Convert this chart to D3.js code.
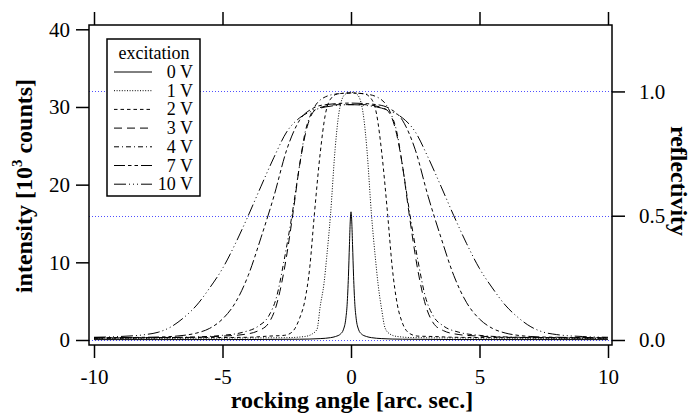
<!DOCTYPE html>
<html>
<head>
<meta charset="utf-8">
<script src="https://cdn.jsdelivr.net/npm/d3@7"></script>
<style>
  html, body { margin: 0; padding: 0; background: #fff; }
  svg { display: block; }
  text { font-family: "Liberation Serif", "Times New Roman", Times, serif; fill: #000; }
</style>
</head>
<body>
<svg id="chart" width="694" height="414"></svg>
<script>
// ---------------- data ----------------
const seriesLabels = ["0 V", "1 V", "2 V", "3 V", "4 V", "7 V", "10 V"];

const angle0V = [-10,-4,-2,-1.2,-0.8,-0.6,-0.4,-0.3,-0.2,-0.15,-0.1,-0.06,-0.03,0,0.03,0.06,0.1,0.15,0.2,0.3,0.4,0.6,0.8,1.2,2,4,10];
const intensity0V = [0.05,0.06,0.1,0.18,0.3,0.45,0.8,1.3,2.8,4.6,8.2,12.3,15.2,16.5,15.2,12.3,8.2,4.6,2.8,1.3,0.8,0.45,0.3,0.18,0.1,0.06,0.05];

const angle1V = [-10,-5,-2.5,-1.8,-1.5,-1.32,-1.2,-1.05,-0.95,-0.8,-0.62,-0.5,-0.35,-0.2,0,0.2,0.35,0.5,0.62,0.8,0.95,1.05,1.2,1.32,1.5,1.8,2.5,5,10];
const intensity1V = [0.2,0.25,0.3,0.45,0.8,1.4,4.3,7.3,10.5,16,24.5,28.5,31,31.7,31.9,31.7,31,28.5,24.5,16,10.5,7.3,3.8,1.6,0.8,0.45,0.3,0.25,0.2];

const angle2V = [-10,-6,-4,-3.2,-2.6,-2.3,-2,-1.8,-1.6,-1.43,-1.2,-1,-0.8,-0.5,0,0.5,0.8,1,1.2,1.43,1.6,1.8,2,2.3,2.6,3.2,4,6,10];
const intensity2V = [0.25,0.3,0.35,0.5,0.6,1.0,2.8,5.0,9.5,16,24,29,31,31.7,31.8,31.7,31,29,24,16,9.5,4.6,2.2,0.8,0.5,0.45,0.35,0.3,0.25];

const angle3V = [-10,-8,-6,-5,-4.2,-3.6,-3.2,-2.9,-2.6,-2.25,-2,-1.7,-1.4,-1,-0.5,0,0.5,1,1.4,1.7,2,2.25,2.6,2.9,3.2,3.6,4.2,5,6,8,10];
const intensity3V = [0.25,0.3,0.35,0.5,0.7,1.2,2.2,4.5,9,16.5,22.5,27.5,29.6,30.1,30.3,30.3,30.3,30.1,29.6,27.5,22.5,16.5,9,4.5,2.2,1.2,0.7,0.5,0.35,0.3,0.25];

const angle4V = [-10,-8,-6,-5,-4.2,-3.6,-3.2,-2.9,-2.6,-2.3,-2,-1.8,-1.5,-1,-0.5,0,0.5,1,1.5,1.8,2,2.3,2.6,2.9,3.2,3.6,4.2,5,6,8,10];
const intensity4V = [0.25,0.3,0.4,0.6,1.0,1.8,3.1,5.5,10.3,16,22.5,26.5,29.5,31.3,31.7,31.8,31.7,31.3,29.5,26.5,22.5,16,10.3,5.5,3.1,1.8,1.0,0.6,0.4,0.3,0.25];

const angle7V = [-10,-8,-7,-6.5,-6,-5.5,-5,-4.5,-4,-3.5,-3,-2.5,-2,-1.5,-1,0,1,1.5,2,2.5,3,3.5,4,4.5,5,5.5,6,6.5,7,8,10];
const intensity7V = [0.3,0.35,0.45,0.6,0.9,1.5,2.7,4.8,8.3,13.2,18.5,24.5,28.3,29.8,30.3,30.5,30.3,29.8,28.3,24.5,18.5,13.2,8.3,4.8,2.7,1.5,0.9,0.6,0.45,0.35,0.3];

const angle10V = [-10,-9,-8,-7.5,-7,-6.5,-6,-5.5,-5,-4.5,-4,-3.5,-3,-2.5,-2,-1.5,-1,0,1,1.5,2,2.5,3,3.5,4,4.5,5,5.5,6,6.5,7,7.5,8,9,10];
const intensity10V = [0.35,0.45,0.7,1.0,1.7,2.9,4.5,6.7,9.2,12.4,16,19.8,23.5,26.8,28.6,29.5,30,30.3,30,29.5,28.6,26.8,23.5,19.8,16,12.4,9.2,6.7,4.5,2.9,1.7,1.0,0.7,0.45,0.35];

const xTicks = [-10, -5, 0, 5, 10];
const yTicks = [0, 10, 20, 30, 40];
const reflTicks = [0.0, 0.5, 1.0];
const reflLines = [0.0, 0.5, 1.0];
const fullReflection = 32; // 10^3 counts corresponding to reflectivity 1.0

// ---------------- drawing ----------------
const angles = [angle0V, angle1V, angle2V, angle3V, angle4V, angle7V, angle10V];
const intensities = [intensity0V, intensity1V, intensity2V, intensity3V, intensity4V, intensity7V, intensity10V];
const dashes = ["none", "1,1.6", "3.5,3", "8,5", "5,3,1,3", "11,3,3.5,3,3.5,3", "12,3,1,3,1,3,1,3"];

const svg = d3.select("#chart");
const frame = {left: 89, right: 612, top: 25, bottom: 345};

const x = d3.scaleLinear().domain([-10, 10]).range([94, 608]);
const y = d3.scaleLinear().domain([0, 40]).range([340, 29.3]);
const yR = d3.scaleLinear().domain([0, 40 / fullReflection]).range([340, 29.3]);

svg.append("rect").attr("width", 694).attr("height", 414).attr("fill", "#fff");

svg.append("defs").append("clipPath").attr("id", "plotclip")
  .append("rect")
  .attr("x", frame.left).attr("y", frame.top)
  .attr("width", frame.right - frame.left).attr("height", frame.bottom - frame.top);

// reference lines for reflectivity
svg.append("g").selectAll("line").data(reflLines).join("line")
  .attr("x1", frame.left).attr("x2", frame.right)
  .attr("y1", d => Math.round(yR(d)) + 0.5).attr("y2", d => Math.round(yR(d)) + 0.5)
  .attr("stroke", "#5050ff").attr("stroke-width", 1)
  .attr("stroke-dasharray", "1,2");

// curves
const line = d3.line().x(d => x(d[0])).y(d => y(d[1])).curve(d3.curveMonotoneX);
const curves = svg.append("g").attr("clip-path", "url(#plotclip)");
angles.forEach((a, i) => {
  const pts = a.map((v, j) => [v, intensities[i][j]]);
  curves.append("path")
    .attr("d", line(pts))
    .attr("fill", "none")
    .attr("stroke", "#000")
    .attr("stroke-width", 1)
    .attr("stroke-dasharray", dashes[i]);
});

// frame
svg.append("rect")
  .attr("x", frame.left).attr("y", frame.top)
  .attr("width", frame.right - frame.left).attr("height", frame.bottom - frame.top)
  .attr("fill", "none").attr("stroke", "#000").attr("stroke-width", 1.5);

function styleAxis(g) {
  g.select(".domain").remove();
  g.selectAll(".tick line").attr("stroke", "#000").attr("stroke-width", 1.5);
  g.selectAll("text").attr("font-size", 21).attr("font-family", '"Liberation Serif", "Times New Roman", serif');
}

const plain = d => String(d);

svg.append("g").attr("transform", `translate(${frame.left},0)`)
  .call(d3.axisLeft(y).tickValues(yTicks).tickSize(13).tickPadding(6).tickFormat(plain))
  .call(styleAxis);

svg.append("g").attr("transform", `translate(${frame.right},0)`)
  .call(d3.axisRight(yR).tickValues(reflTicks).tickSize(13).tickPadding(14).tickFormat(d => d.toFixed(1)))
  .call(styleAxis);

svg.append("g").attr("transform", `translate(0,${frame.bottom})`)
  .call(d3.axisBottom(x).tickValues(xTicks).tickSize(13).tickPadding(11).tickFormat(plain))
  .call(styleAxis);

svg.append("g").attr("transform", `translate(0,${frame.top})`)
  .call(d3.axisTop(x).tickValues(xTicks).tickSize(13).tickFormat(""))
  .call(styleAxis);

// axis titles
svg.append("text")
  .attr("x", 352).attr("y", 408)
  .attr("text-anchor", "middle").attr("font-size", 24).attr("font-weight", "bold")
  .text("rocking angle [arc. sec.]");

const yt = svg.append("text")
  .attr("transform", "translate(32,186) rotate(-90)")
  .attr("text-anchor", "middle").attr("font-size", 24).attr("font-weight", "bold");
yt.append("tspan").text("intensity [10");
yt.append("tspan").attr("font-size", 15).attr("dy", -10).text("3");
yt.append("tspan").attr("dy", 10).text(" counts]");

svg.append("text")
  .attr("transform", "translate(671,181) rotate(90)")
  .attr("text-anchor", "middle").attr("font-size", 24).attr("font-weight", "bold")
  .text("reflectivity");

// legend
const lg = svg.append("g");
lg.append("rect").attr("x", 107).attr("y", 39).attr("width", 93).attr("height", 157)
  .attr("fill", "#fff").attr("stroke", "#000").attr("stroke-width", 1.5);
lg.append("text").attr("x", 154).attr("y", 59).attr("text-anchor", "middle")
  .attr("font-size", 18).text("excitation");
seriesLabels.forEach((lab, i) => {
  const cy = 72 + i * 18.7;
  lg.append("line").attr("x1", 114).attr("x2", 152).attr("y1", cy).attr("y2", cy)
    .attr("stroke", "#000").attr("stroke-width", 1).attr("stroke-dasharray", dashes[i]);
  lg.append("text").attr("x", 193).attr("y", cy + 6).attr("text-anchor", "end")
    .attr("font-size", 18).text(lab);
});
</script>
</body>
</html>
